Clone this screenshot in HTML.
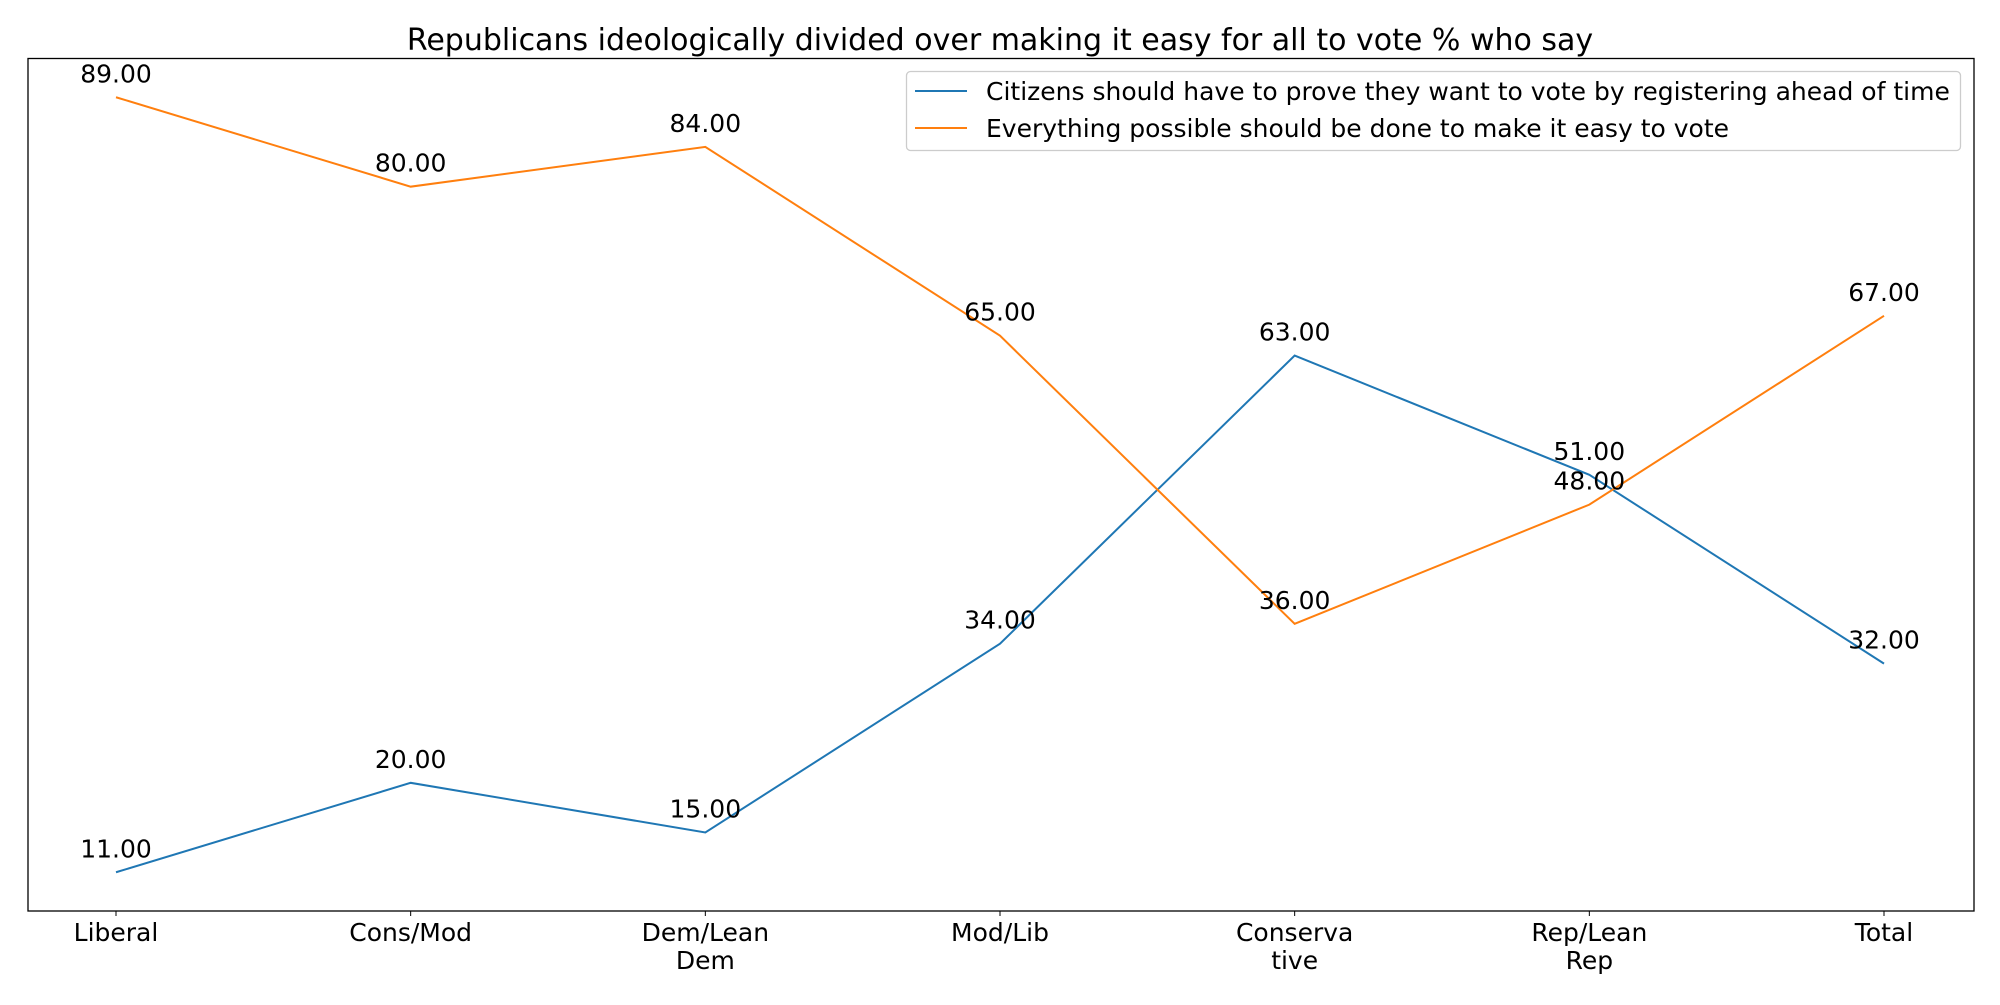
<!DOCTYPE html>
<html><head><meta charset="utf-8"><style>
body{margin:0;background:#fff;}
svg text{font-family:"DejaVu Sans","Liberation Sans",sans-serif;}
</style></head><body>
<svg id="chart" width="2000" height="1000" xmlns="http://www.w3.org/2000/svg">
<text x="1000" y="50" font-size="30" text-anchor="middle">Republicans ideologically divided over making it easy for all to vote % who say</text>
<rect x="28" y="58.5" width="1946" height="852.5" fill="none" stroke="#000" stroke-width="1.3"/>
<g id="ticks"></g>
<g id="series"></g>
<g>
<rect x="906.5" y="71.5" width="1054" height="79" rx="4" fill="#fff" stroke="#ccc" stroke-width="1.3"/>
<line x1="915" y1="91" x2="967" y2="91" stroke="#1f77b4" stroke-width="2"/>
<text x="986" y="100" font-size="25">Citizens should have to prove they want to vote by registering ahead of time</text>
<line x1="915" y1="128" x2="967" y2="128" stroke="#ff7f0e" stroke-width="2"/>
<text x="986" y="137" font-size="25">Everything possible should be done to make it easy to vote</text>
</g>
</svg>
<script>
const categories = [["Liberal"],["Cons/Mod"],["Dem/Lean","Dem"],["Mod/Lib"],["Conserva","tive"],["Rep/Lean","Rep"],["Total"]];
const citizens = [11,20,15,34,63,51,32];
const everything = [89,80,84,65,36,48,67];
const NS="http://www.w3.org/2000/svg";
const xs = i => 116 + i*(1884-116)/(categories.length-1);
const all = citizens.concat(everything);
const mn=Math.min(...all), mx=Math.max(...all), pad=(mx-mn)*0.05;
const ys = v => 911 - (v-(mn-pad))/((mx+pad)-(mn-pad))*(911-58.5);
const tg=document.getElementById('ticks'), sg=document.getElementById('series');
categories.forEach((c,i)=>{
  const t=document.createElementNS(NS,'line');
  t.setAttribute('x1',xs(i));t.setAttribute('x2',xs(i));t.setAttribute('y1',911);t.setAttribute('y2',916);t.setAttribute('stroke','#000');
  
  
  tg.appendChild(t);
  c.forEach((s,j)=>{
    const tx=document.createElementNS(NS,'text');
    tx.setAttribute('x',xs(i));tx.setAttribute('y',941+j*28);tx.setAttribute('font-size','25');tx.setAttribute('text-anchor','middle');
    tx.textContent=s;
    
    
    tg.appendChild(tx);
  });
});
[[citizens,'#1f77b4','citizens'],[everything,'#ff7f0e','everything']].forEach(([vals,col,nm])=>{
  const p=document.createElementNS(NS,'polyline');
  p.setAttribute('points',vals.map((v,i)=>xs(i)+','+ys(v)).join(' '));
  p.setAttribute('fill','none');p.setAttribute('stroke',col);p.setAttribute('stroke-width','2');
  
  
  sg.appendChild(p);
  vals.forEach((v,i)=>{
    const tx=document.createElementNS(NS,'text');
    tx.setAttribute('x',xs(i));tx.setAttribute('y',ys(v)-15);tx.setAttribute('font-size','25');tx.setAttribute('text-anchor','middle');
    tx.textContent=v.toFixed(2);
    
    
    sg.appendChild(tx);
  });
});
</script>
</body></html>
